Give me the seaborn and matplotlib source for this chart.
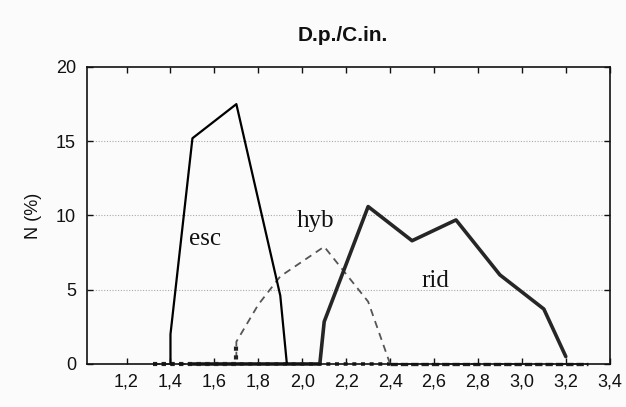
import matplotlib
matplotlib.use("Agg")
import matplotlib.pyplot as plt
import seaborn as sns
import pandas as pd

# ---- data ----
esc_x = [1.4, 1.4, 1.5, 1.7, 1.9, 1.93]
esc_y = [0.0, 2.0, 15.2, 17.5, 4.6, 0.0]

hyb_x = [1.32, 1.7, 1.7, 1.8, 1.9, 2.1, 2.3, 2.4, 3.3]
hyb_y = [0.0, 0.0, 1.5, 4.0, 5.9, 7.9, 4.2, 0.0, 0.0]

rid_x = [1.5, 2.08, 2.1, 2.3, 2.5, 2.7, 2.9, 3.1, 3.2]
rid_y = [0.0, 0.0, 2.85, 10.6, 8.3, 9.7, 6.0, 3.7, 0.5]

base_x = [1.32, 2.4]
base_y = [0.0, 0.0]

x_ticks = [1.2, 1.4, 1.6, 1.8, 2.0, 2.2, 2.4, 2.6, 2.8, 3.0, 3.2, 3.4]
y_ticks = [0, 5, 10, 15, 20]

labels = ["esc", "hyb", "rid"]
label_x = [1.555, 2.062, 2.607]
label_y = [8.0, 9.25, 5.16]

sns.set_theme(style="white")
plt.rcParams['font.family'] = ['Liberation Sans', 'DejaVu Sans']

bg = "#fbfbfb"
fig = plt.figure(figsize=(6.26, 4.07), dpi=100, facecolor=bg)
ax = fig.add_axes([0.139, 0.1057, 0.835, 0.7297])
ax.set_facecolor(bg)

def df(x, y):
    return pd.DataFrame({"x": x, "y": y})

def draw(x, y, **kw):
    sns.lineplot(data=df(x, y), x="x", y="y", ax=ax, sort=False, estimator=None, **kw)
    ax.lines[-1].set_clip_on(False)

# baseline dotted
draw(base_x, base_y, color="#222222", lw=2.6, linestyle=(0, (1.1, 1.3)))
# hyb dashed
draw(hyb_x, hyb_y, color="#555555", lw=1.3, linestyle=(0, (4, 3)))
# hyb start dotted (thick)
draw(hyb_x[:3], hyb_y[:3], color="#222222", lw=3.0, linestyle=(0, (1.0, 1.1)))
# hyb tail dashed thick
draw(hyb_x[-2:], hyb_y[-2:], color="#222222", lw=2.4, linestyle=(0, (2.2, 0.9)))
# rid thick
draw(rid_x, rid_y, color="#262626", lw=2.6)
# esc thin
draw(esc_x, esc_y, color="#000000", lw=1.6)

for t, lx, ly in zip(labels, label_x, label_y):
    ax.text(lx, ly, t, ha="center", va="baseline", fontsize=18,
            family=['Liberation Serif', 'DejaVu Serif'], color="#111111")

ax.set_xlim(1.02, 3.4)
ax.set_ylim(0, 20)
ax.set_xticks(x_ticks)
ax.set_xticklabels([f"{v:.1f}".replace(".", ",") for v in x_ticks])
ax.set_yticks(y_ticks)
ax.set_yticklabels([str(v) for v in y_ticks])
ax.tick_params(direction="in", length=4, width=1, top=True, right=True, bottom=True, left=True,
               labelsize=13, colors="#111111", pad=7)
ax.tick_params(axis="y", pad=8)
for v in y_ticks[1:-1]:
    ax.axhline(v, color="#aaaaaa", lw=0.8, linestyle=(0, (1, 1.5)), zorder=0)
for s in ax.spines.values():
    s.set_color("#111111")
    s.set_linewidth(1.2)
ax.set_xlabel("")
ax.set_ylabel("N (%)", fontsize=13, color="#111111", labelpad=10)
ax.set_title("D.p./C.in.", fontsize=15, fontweight="bold", color="#111111", pad=19, x=0.49)

fig.savefig("out.png", dpi=100, facecolor=bg)
